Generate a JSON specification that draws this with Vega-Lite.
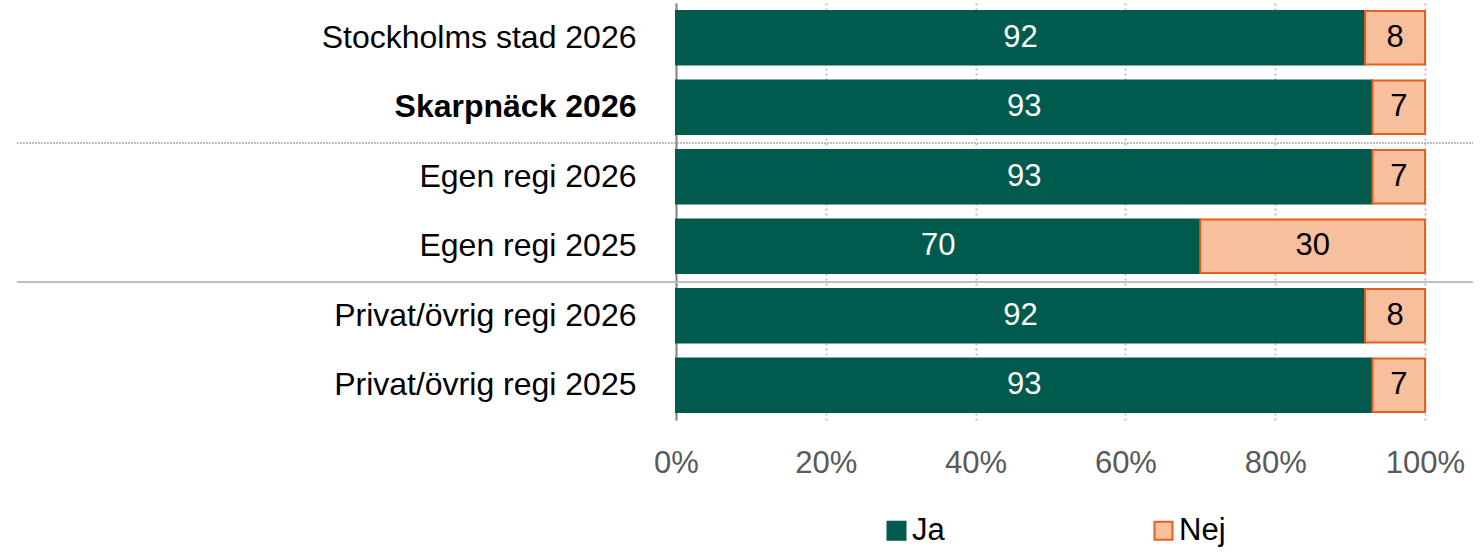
{
  "$schema": "https://vega.github.io/schema/vega-lite/v6.json",
  "width": 749,
  "height": 417,
  "autosize": {"type": "none"},
  "padding": {"left": 676, "top": 3, "right": 56, "bottom": 133},
  "config": {"view": {"stroke": null}, "font": "Liberation Sans"},
  "data": {"values": [
    {"row": "Stockholms stad 2026", "svar": "Ja", "value": 92},
    {"row": "Stockholms stad 2026", "svar": "Nej", "value": 8},
    {"row": "Skarpnäck 2026", "svar": "Ja", "value": 93},
    {"row": "Skarpnäck 2026", "svar": "Nej", "value": 7},
    {"row": "Egen regi 2026", "svar": "Ja", "value": 93},
    {"row": "Egen regi 2026", "svar": "Nej", "value": 7},
    {"row": "Egen regi 2025", "svar": "Ja", "value": 70},
    {"row": "Egen regi 2025", "svar": "Nej", "value": 30},
    {"row": "Privat/övrig regi 2026", "svar": "Ja", "value": 92},
    {"row": "Privat/övrig regi 2026", "svar": "Nej", "value": 8},
    {"row": "Privat/övrig regi 2025", "svar": "Ja", "value": 93},
    {"row": "Privat/övrig regi 2025", "svar": "Nej", "value": 7}
  ]},
  "layer": [
    {
      "mark": {"type": "bar", "strokeWidth": 2},
      "encoding": {
        "y": {
          "field": "row", "type": "nominal", "title": null,
          "sort": ["Stockholms stad 2026", "Skarpnäck 2026", "Egen regi 2026", "Egen regi 2025", "Privat/övrig regi 2026", "Privat/övrig regi 2025"],
          "scale": {"paddingInner": 0.232, "paddingOuter": 0.116},
          "axis": {
            "ticks": false, "domainColor": "#868686", "domainWidth": 2,
            "labelFontSize": 32, "labelColor": "#000000", "labelPadding": 40, "labelLimit": 600,
            "labelFontWeight": {"condition": {"test": "datum.value == 'Skarpnäck 2026'", "value": "bold"}, "value": "normal"}
          }
        },
        "x": {
          "field": "value", "type": "quantitative", "stack": "normalize", "title": null,
          "scale": {"domain": [0, 1], "nice": false},
          "axis": {
            "format": ".0%", "values": [0, 0.2, 0.4, 0.6, 0.8, 1], "domain": false, "ticks": false,
            "labelFontSize": 31, "labelColor": "#595959", "labelPadding": 28, "labelFlush": false,
            "grid": true, "gridColor": "#BFBFBF", "gridWidth": 2, "gridDash": [2, 3]
          }
        },
        "order": {"field": "svar", "type": "nominal", "sort": "ascending"},
        "color": {
          "field": "svar", "type": "nominal",
          "scale": {"domain": ["Ja", "Nej"], "range": ["#005A4E", "#F8BF9C"]},
          "legend": {"title": null, "orient": "none", "legendX": 205, "legendY": 512, "direction": "horizontal", "symbolType": "square", "symbolSize": 324, "symbolStrokeWidth": 2, "labelFontSize": 31, "labelColor": "#000000", "columnPadding": 203, "labelOffset": 0}
        },
        "stroke": {
          "field": "svar", "type": "nominal",
          "scale": {"domain": ["Ja", "Nej"], "range": ["#005A4E", "#E5601E"]},
          "legend": {"title": null, "orient": "none", "legendX": 205, "legendY": 512, "direction": "horizontal", "symbolType": "square", "symbolSize": 324, "symbolStrokeWidth": 2, "labelFontSize": 31, "labelColor": "#000000", "columnPadding": 203, "labelOffset": 0}
        }
      }
    },
    {
      "mark": {"type": "text", "fontSize": 31, "baseline": "middle", "align": "center"},
      "encoding": {
        "y": {"field": "row", "type": "nominal", "sort": ["Stockholms stad 2026", "Skarpnäck 2026", "Egen regi 2026", "Egen regi 2025", "Privat/övrig regi 2026", "Privat/övrig regi 2025"]},
        "x": {"field": "value", "type": "quantitative", "stack": "normalize", "bandPosition": 0.5},
        "detail": {"field": "svar", "type": "nominal"},
        "order": {"field": "svar", "type": "nominal", "sort": "ascending"},
        "text": {"field": "value", "type": "quantitative"},
        "color": {"condition": {"test": "datum.svar == 'Ja'", "value": "#FFFFFF"}, "value": "#000000"}
      }
    },
    {
      "data": {"values": [{"row": "Egen regi 2026", "from": -0.88, "to": 1.064}]},
      "mark": {"type": "rule", "yOffset": -7, "color": "#A6A6A6", "strokeWidth": 1.5, "strokeDash": [2, 1]},
      "encoding": {
        "y": {"field": "row", "type": "nominal", "bandPosition": 0, "sort": ["Stockholms stad 2026", "Skarpnäck 2026", "Egen regi 2026", "Egen regi 2025", "Privat/övrig regi 2026", "Privat/övrig regi 2025"]},
        "x": {"field": "from", "type": "quantitative"},
        "x2": {"field": "to"}
      }
    },
    {
      "data": {"values": [{"row": "Privat/övrig regi 2026", "from": -0.88, "to": 1.064}]},
      "mark": {"type": "rule", "yOffset": -7, "color": "#BFBFBF", "strokeWidth": 2},
      "encoding": {
        "y": {"field": "row", "type": "nominal", "bandPosition": 0, "sort": ["Stockholms stad 2026", "Skarpnäck 2026", "Egen regi 2026", "Egen regi 2025", "Privat/övrig regi 2026", "Privat/övrig regi 2025"]},
        "x": {"field": "from", "type": "quantitative"},
        "x2": {"field": "to"}
      }
    }
  ]
}
